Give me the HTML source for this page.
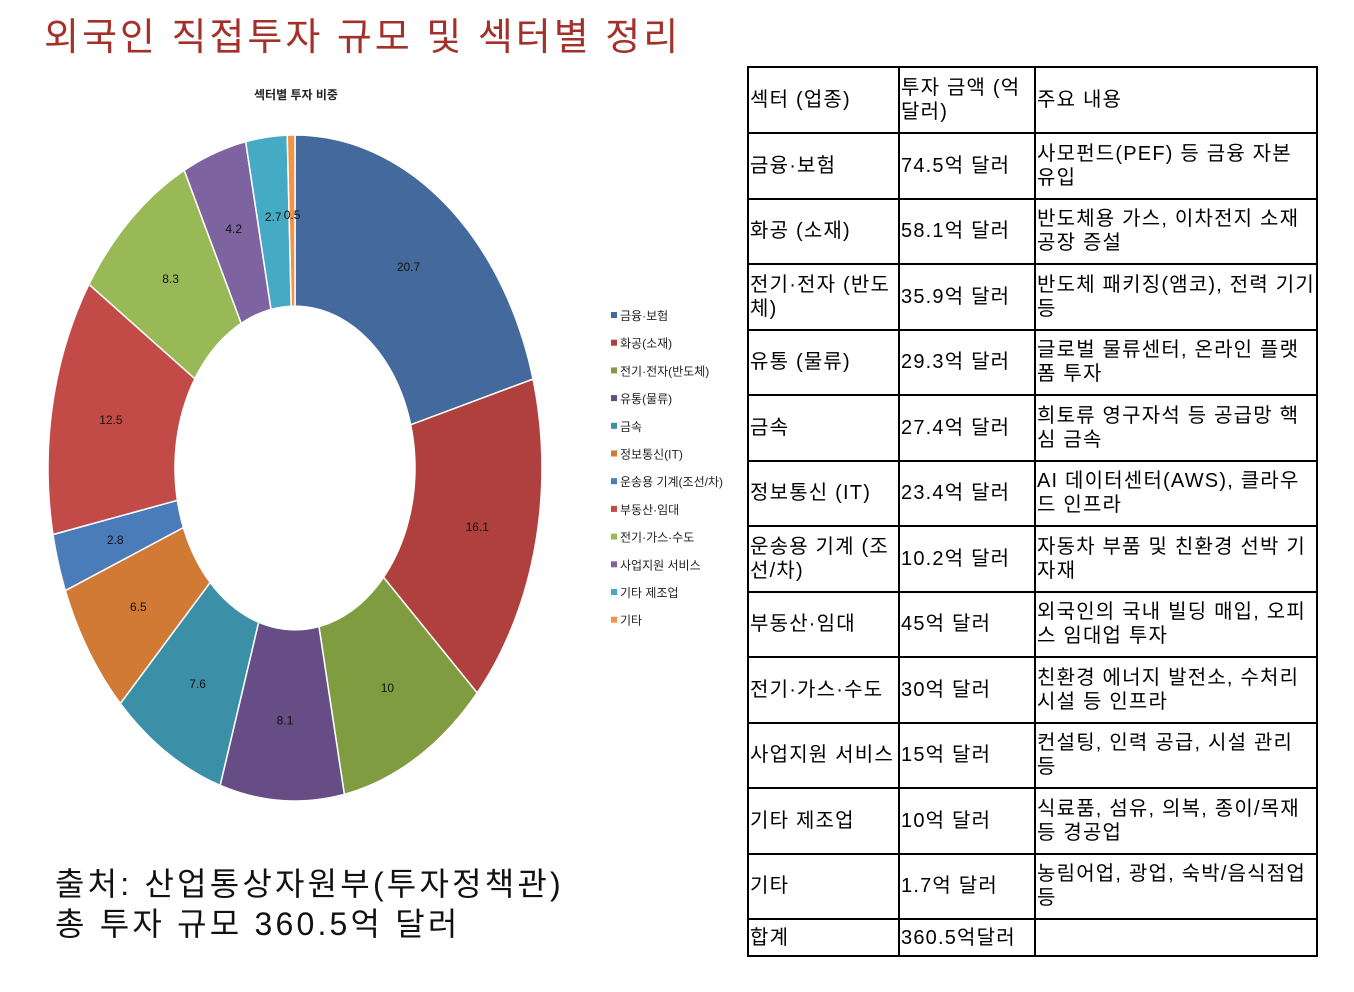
<!DOCTYPE html>
<html><head><meta charset="utf-8">
<style>
body{margin:0;width:1354px;height:992px;background:#fff;position:relative;overflow:hidden;font-family:"Liberation Sans","Noto Sans CJK KR",sans-serif;}
.t{position:absolute;}
#tbl{position:absolute;left:747px;top:66px;border-collapse:collapse;font-size:20px;line-height:24px;color:#000;table-layout:fixed;width:569px;}
#tbl td{border:2px solid #000;padding:0 0 0 1px;vertical-align:middle;overflow:hidden;letter-spacing:1.2px;word-break:break-all;}
</style></head><body>
<div class="t" style="left:44px;top:6px;font-size:38px;color:#a4302a;letter-spacing:3px;">외국인 직접투자 규모 및 섹터별 정리</div>
<svg id="chart" width="740" height="840" style="position:absolute;left:0;top:60px" viewBox="0 60 740 840">
<text x="296" y="99" text-anchor="middle" font-size="12" font-weight="bold" fill="#222">섹터별 투자 비중</text>
<g id="slices"></g><g id="labels"></g><g id="legend"></g>
</svg>
<div class="t" style="left:55px;top:864px;font-size:32px;line-height:40px;color:#111;letter-spacing:3.2px;">출처: 산업통상자원부(투자정책관)<br>총 투자 규모 360.5억 달러</div>
<table id="tbl">
<colgroup><col style="width:151px"><col style="width:136px"><col style="width:282px"></colgroup>
<tbody id="tb"></tbody></table>
<script>
const categories=["금융·보험","화공(소재)","전기·전자(반도체)","유통(물류)","금속","정보통신(IT)","운송용 기계(조선/차)","부동산·임대","전기·가스·수도","사업지원 서비스","기타 제조업","기타"];
const shares=[20.7,16.1,10,8.1,7.6,6.5,2.8,12.5,8.3,4.2,2.7,0.5];
const shareLabels=["20.7","16.1","10","8.1","7.6","6.5","2.8","12.5","8.3","4.2","2.7","0.5"];
const colors=["#44699c","#b0403d","#7f9c40","#674d86","#3b90a8","#d07a35","#4a7cba","#c24b48","#98b955","#7d63a0","#45aac4","#f09446"];
const rowSector=["섹터 (업종)","금융·보험","화공 (소재)","전기·전자 (반도체)","유통 (물류)","금속","정보통신 (IT)","운송용 기계 (조선/차)","부동산·임대","전기·가스·수도","사업지원 서비스","기타 제조업","기타","합계"];
const rowAmount=["투자 금액 (억 달러)","74.5억 달러","58.1억 달러","35.9억 달러","29.3억 달러","27.4억 달러","23.4억 달러","10.2억 달러","45억 달러","30억 달러","15억 달러","10억 달러","1.7억 달러","360.5억달러"];
const rowDesc=["주요 내용","사모펀드(PEF) 등 금융 자본 유입","반도체용 가스, 이차전지 소재 공장 증설","반도체 패키징(앰코), 전력 기기 등","글로벌 물류센터, 온라인 플랫폼 투자","희토류 영구자석 등 공급망 핵심 금속","AI 데이터센터(AWS), 클라우드 인프라","자동차 부품 및 친환경 선박 기자재","외국인의 국내 빌딩 매입, 오피스 임대업 투자","친환경 에너지 발전소, 수처리 시설 등 인프라","컨설팅, 인력 공급, 시설 관리 등","식료품, 섬유, 의복, 종이/목재 등 경공업","농림어업, 광업, 숙박/음식점업 등",""];
const NS="http://www.w3.org/2000/svg";
const cx=295,cy=468,R=247,r0=120,sy=333/247;
const total=shares.reduce((a,b)=>a+b,0);
function pt(rad,ang){return [cx+rad*Math.sin(ang),cy-rad*Math.cos(ang)*sy];}
let acc=0;
const sg=document.getElementById('slices'),lg=document.getElementById('labels'),leg=document.getElementById('legend');
shares.forEach((v,i)=>{
 const a0=acc/total*2*Math.PI;acc+=v;const a1=acc/total*2*Math.PI;
 const n=40;let d="";
 for(let k=0;k<=n;k++){const p=pt(R,a0+(a1-a0)*k/n);d+=(k?"L":"M")+p[0].toFixed(2)+","+p[1].toFixed(2);}
 for(let k=n;k>=0;k--){const p=pt(r0,a0+(a1-a0)*k/n);d+="L"+p[0].toFixed(2)+","+p[1].toFixed(2);}
 const path=document.createElementNS(NS,'path');
 path.setAttribute('d',d+'Z');path.setAttribute('fill',colors[i]);path.setAttribute('stroke','#fff');path.setAttribute('stroke-width','1.5');
 
 
 sg.appendChild(path);
 const m=pt((R+r0)/2+4,(a0+a1)/2);
 const t=document.createElementNS(NS,'text');
 t.setAttribute('x',m[0]);t.setAttribute('y',m[1]+4);t.setAttribute('text-anchor','middle');t.setAttribute('font-size','12');t.setAttribute('fill','#111');
 t.textContent=shareLabels[i];
 
 
 lg.appendChild(t);
 const ly=316+i*27.7;
 const rc=document.createElementNS(NS,'rect');
 rc.setAttribute('x',611);rc.setAttribute('y',ly-4);rc.setAttribute('width',6);rc.setAttribute('height',6);rc.setAttribute('fill',colors[i]);
 
 
 leg.appendChild(rc);
 const lt=document.createElementNS(NS,'text');
 lt.setAttribute('x',620);lt.setAttribute('y',ly+4);lt.setAttribute('font-size','12');lt.setAttribute('fill','#222');
 lt.textContent=categories[i];
 
 
 leg.appendChild(lt);
});
const tb=document.getElementById('tb');
rowSector.forEach((s,i)=>{
 const tr=document.createElement('tr');
 tr.style.height=(i==0?66:(i==rowSector.length-1?37:65.5))+'px';
 
 
 [s,rowAmount[i],rowDesc[i]].forEach(c=>{const td=document.createElement('td');td.textContent=c;tr.appendChild(td);});
 tb.appendChild(tr);
});
</script>
</body></html>
